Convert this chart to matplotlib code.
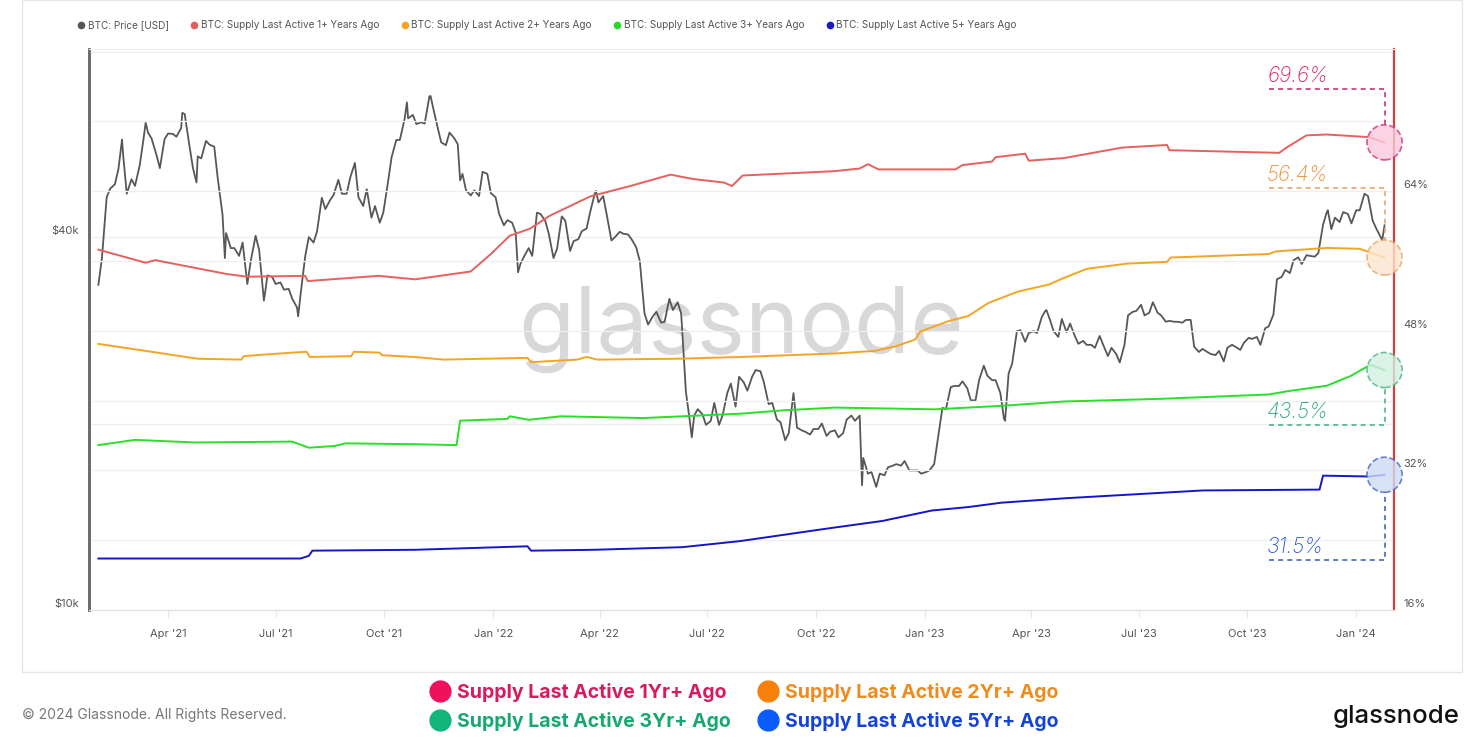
import matplotlib
matplotlib.use("Agg")
import matplotlib.pyplot as plt
import matplotlib.dates as mdates
import matplotlib.transforms as mtransforms
from matplotlib.lines import Line2D
from matplotlib.patches import Rectangle
from matplotlib.ticker import FixedLocator, NullFormatter
import numpy as np
import pandas as pd

plt.rcParams['font.family'] = ['Inter', 'DejaVu Sans']

# ---- BTC price (USD, thousands), Mondays from 2021-02-01 ----
price_mon = [
    33.5, 46.4, 48.7, 54.1,
    49.6, 52.3, 59.0, 54.4, 57.6,
    58.7, 60.0, 56.2, 54.0,
    57.2, 56.0, 43.5, 38.4, 37.3,
    33.6, 40.2, 31.6, 34.5,
    33.8, 33.0, 30.8, 37.3,
    39.2, 46.3, 45.9, 49.5, 47.0,
    52.7, 44.9, 43.0, 42.2,
    49.1, 57.4, 62.0, 63.0,
    61.3, 67.5, 60.1, 56.3, 57.8,
    50.6, 46.7, 46.6, 50.6,
    46.4, 41.8, 42.2, 36.2, 38.4,
    43.8, 42.5, 37.0, 43.2,
    38.0, 39.7, 41.3, 47.1,
    46.6, 39.5, 40.8, 40.4,
    38.5, 30.1, 29.8, 29.1, 31.8,
    31.4, 22.5, 20.6, 20.7,
    20.2, 19.9, 22.4, 21.3,
    23.3, 23.8, 24.3, 21.5, 20.3,
    18.8, 22.4, 19.5, 19.2,
    19.6, 19.1, 19.5, 19.3, 20.6,
    20.6, 16.6, 15.8, 16.5,
    17.1, 17.1, 16.8, 16.8,
    16.7, 17.2, 21.2, 22.9, 23.0,
    22.8, 21.8, 24.8, 23.5,
    22.4, 24.1, 28.2, 27.1,
    28.2, 29.7, 29.4, 27.6,
    28.1, 27.7, 27.2, 26.8, 27.7,
    25.7, 25.9, 26.8, 30.3,
    31.1, 30.2, 30.2, 29.2, 29.2,
    29.1, 29.4, 26.1, 26.1,
    25.8, 25.8, 26.8, 26.3,
    27.5, 27.6, 28.5, 30.0, 34.5,
    35.0, 37.1, 37.4, 37.2,
    41.9, 41.2, 42.3, 43.6,
    44.2, 47.0, 42.5, 39.9,
]
# Thursdays from 2021-02-04
price_thu = [
    37.0, 47.9, 51.6, 47.0,
    48.4, 57.3, 57.7, 51.7,
    58.8, 58.1, 63.2, 51.7, 53.6,
    56.4, 49.7, 40.6, 38.4,
    39.2, 36.7, 38.1, 34.7,
    33.6, 32.9, 31.8, 32.3, 40.0,
    40.9, 44.4, 46.8, 47.0,
    49.9, 46.4, 47.8, 44.9, 43.8,
    53.8, 57.4, 62.2, 60.9,
    61.0, 64.9, 56.9, 59.0,
    56.5, 47.6, 47.6, 51.0, 47.1,
    43.6, 42.6, 40.7, 37.2,
    37.3, 43.6, 40.5, 38.3,
    42.5, 39.4, 40.9, 43.9, 45.5,
    43.5, 40.0, 40.5, 39.7,
    36.6, 28.9, 30.3, 29.2,
    30.5, 30.1, 20.4, 21.1, 19.9,
    21.6, 20.6, 23.2, 23.8,
    22.6, 24.4, 23.3, 21.6,
    20.1, 19.3, 19.7, 19.4, 19.6,
    20.0, 19.4, 19.0, 20.3,
    20.2, 17.6, 16.7, 16.6,
    17.0, 17.2, 17.4, 16.8, 16.6,
    16.8, 18.8, 21.1, 23.0,
    23.4, 21.8, 23.5, 23.9,
    23.5, 20.4, 25.0, 28.3, 28.0,
    28.0, 30.4, 28.2, 29.5,
    29.0, 26.9, 26.8, 26.5,
    26.8, 26.5, 25.1, 29.9, 30.4,
    29.9, 31.4, 29.9, 29.3,
    29.2, 29.4, 26.6, 26.4, 25.9,
    26.2, 26.5, 26.6, 27.0,
    27.4, 26.8, 28.7, 34.2,
    35.4, 36.7, 36.2, 37.3, 37.7,
    43.8, 43.0, 43.9, 42.1,
    44.2, 46.6, 41.3, 40.0,
]
# intra-week highs / lows visible on the chart
price_extra_dates = [
    '2021-02-21', '2021-03-13', '2021-04-13', '2021-04-25', '2021-05-19',
    '2021-06-22', '2021-07-20', '2021-10-20', '2021-11-09', '2021-12-04',
    '2022-01-22', '2022-02-24', '2022-03-29', '2022-06-18', '2022-11-09',
    '2022-11-21', '2023-03-10', '2023-04-14', '2023-06-15', '2023-07-13',
    '2023-08-17', '2023-09-11', '2023-12-08', '2024-01-11', '2024-01-23',
    '2024-01-25',
]
price_extra = [
    57.5, 61.2, 63.5, 49.0, 37.0,
    32.5, 29.8, 66.0, 67.6, 49.4,
    35.1, 38.3, 47.5, 19.0, 15.9,
    15.8, 20.2, 30.5, 25.1, 31.4,
    26.6, 25.2, 44.2, 46.6, 39.5,
    41.8,
]

# ---- supply last active N+ years ago (% of supply) ----
red_dates = ['2021-02-01', '2021-03-13', '2021-03-21', '2021-05-21', '2021-06-07', '2021-07-26',
             '2021-07-28', '2021-09-26', '2021-10-27', '2021-12-13', '2021-12-30', '2022-01-15',
             '2022-02-01', '2022-02-18', '2022-03-24', '2022-04-27', '2022-05-31', '2022-06-19',
             '2022-07-15', '2022-07-22', '2022-07-31', '2022-10-17', '2022-11-07', '2022-11-14',
             '2022-11-23', '2023-01-27', '2023-02-02', '2023-02-27', '2023-03-02', '2023-03-27',
             '2023-03-30', '2023-04-29', '2023-06-17', '2023-07-25', '2023-07-27', '2023-10-28',
             '2023-11-03', '2023-11-20', '2023-12-07', '2024-01-12', '2024-01-25']
red_vals = [57.3, 55.8, 56.1, 54.5, 54.2, 54.3,
            53.7, 54.3, 53.9, 54.8, 56.8, 58.9,
            59.7, 61.2, 63.4, 64.6, 65.9, 65.4,
            65.0, 64.6, 65.8, 66.3, 66.6, 67.1,
            66.5, 66.5, 67.0, 67.4, 67.9, 68.3,
            67.5, 67.8, 69.0, 69.3, 68.7, 68.4,
            69.0, 70.4, 70.5, 70.2, 69.6]

orange_dates = ['2021-02-01', '2021-02-26', '2021-04-26', '2021-06-02', '2021-06-04', '2021-07-15',
                '2021-07-27', '2021-07-30', '2021-09-03', '2021-09-05', '2021-09-27', '2021-09-29',
                '2021-10-27', '2021-11-20', '2022-01-30', '2022-02-02', '2022-03-13', '2022-03-21',
                '2022-03-30', '2022-06-06', '2022-07-29', '2022-10-17', '2022-11-20', '2022-12-07',
                '2022-12-24', '2022-12-28', '2023-01-21', '2023-02-07', '2023-02-24', '2023-03-21',
                '2023-04-16', '2023-04-26', '2023-05-18', '2023-06-21', '2023-07-25', '2023-07-28',
                '2023-10-19', '2023-10-25', '2023-12-07', '2024-01-04', '2024-01-25']
orange_vals = [46.5, 46.0, 44.8, 44.7, 45.1, 45.5,
               45.6, 45.0, 45.1, 45.6, 45.5, 45.2,
               45.0, 44.7, 44.9, 44.4, 44.7, 45.0,
               44.7, 44.8, 45.0, 45.4, 45.7, 46.2,
               47.0, 47.9, 49.1, 49.7, 51.2, 52.5,
               53.3, 53.9, 55.1, 55.7, 55.9, 56.4,
               56.8, 57.1, 57.5, 57.4, 56.4]

green_dates = ['2021-02-01', '2021-03-04', '2021-04-24', '2021-07-15', '2021-07-21', '2021-07-29',
               '2021-08-20', '2021-08-29', '2021-10-27', '2021-12-01', '2021-12-04', '2022-01-13',
               '2022-01-15', '2022-01-31', '2022-02-27', '2022-05-08', '2022-07-29', '2022-09-05',
               '2022-10-17', '2023-01-10', '2023-03-07', '2023-04-29', '2023-07-19', '2023-10-19',
               '2023-11-05', '2023-12-07', '2023-12-27', '2024-01-13', '2024-01-25']
green_vals = [34.9, 35.5, 35.2, 35.3, 35.0, 34.6,
              34.8, 35.1, 35.0, 34.9, 37.7, 37.9,
              38.2, 37.8, 38.2, 38.0, 38.5, 38.9,
              39.2, 39.0, 39.4, 39.9, 40.2, 40.7,
              41.1, 41.7, 42.8, 44.1, 43.5]

blue_dates = ['2021-02-01', '2021-07-22', '2021-07-29', '2021-08-01', '2021-10-27', '2022-01-30',
              '2022-02-02', '2022-03-27', '2022-06-10', '2022-07-29', '2022-10-14', '2022-11-26',
              '2023-01-07', '2023-02-07', '2023-03-07', '2023-04-29', '2023-08-24', '2023-12-01',
              '2023-12-04', '2024-01-12', '2024-01-25']
blue_vals = [21.9, 21.9, 22.2, 22.8, 22.9, 23.3,
             22.8, 22.9, 23.2, 23.9, 25.4, 26.2,
             27.4, 27.8, 28.3, 28.8, 29.7, 29.8,
             31.4, 31.3, 31.5]

top_labels = ['BTC: Price [USD]', 'BTC: Supply Last Active 1+ Years Ago',
              'BTC: Supply Last Active 2+ Years Ago', 'BTC: Supply Last Active 3+ Years Ago',
              'BTC: Supply Last Active 5+ Years Ago']
bottom_labels = ['Supply Last Active 1Yr+ Ago', 'Supply Last Active 2Yr+ Ago',
                 'Supply Last Active 3Yr+ Ago', 'Supply Last Active 5Yr+ Ago']
x_ticks = ['2021-04-01', '2021-07-01', '2021-10-01', '2022-01-01', '2022-04-01', '2022-07-01',
           '2022-10-01', '2023-01-01', '2023-04-01', '2023-07-01', '2023-10-01', '2024-01-01']

# ---- build frames ----
mon = pd.Series(np.array(price_mon) * 1000,
                index=pd.date_range('2021-02-01', periods=len(price_mon), freq='7D'))
thu = pd.Series(np.array(price_thu) * 1000,
                index=pd.date_range('2021-02-04', periods=len(price_thu), freq='7D'))
extra = pd.Series(np.array(price_extra) * 1000, index=pd.to_datetime(price_extra_dates))
price = pd.concat([mon, thu, extra])
price = price[~price.index.duplicated(keep='last')].sort_index()

supply = [
    (pd.to_datetime(red_dates), red_vals, '#e8605c'),
    (pd.to_datetime(orange_dates), orange_vals, '#f5a524'),
    (pd.to_datetime(green_dates), green_vals, '#27e027'),
    (pd.to_datetime(blue_dates), blue_vals, '#1414cc'),
]
# annotation styling: label colour, circle fill, circle edge, label offset (pct points)
annot = [
    ('#dc1f66', '#f9cadc', '#cc3377', 6.1),
    ('#f08c2c', '#fde4cd', '#e8a668', 8.0),
    ('#24a878', '#d3efe0', '#4bb488', -6.3),
    ('#2c5ad8', '#cfdbf6', '#4466bb', -9.8),
]

fig = plt.figure(figsize=(14.7, 7.54), dpi=100)
ax = fig.add_axes([0.0605, 0.191, 0.8878, 0.744])
ax2 = ax.twinx()

ax.set_yscale('log')
ax.set_ylim(10000, 80500)
ax2.set_ylim(16, 80.3)
ax.set_xlim(pd.Timestamp('2021-01-24'), pd.Timestamp('2024-02-02'))

ax.text(0.5, 0.5, 'glassnode', transform=ax.transAxes, fontsize=66, color='#d8d8d8',
        ha='center', va='center', zorder=0)

ax.plot(price.index, price.values, color='#575757', lw=1.3, zorder=3)
for d, v, c in supply:
    ax2.plot(d, v, color=c, lw=1.4, zorder=3)

# end-of-series annotations
pct_per_px = (80.3 - 16) / (0.744 * 754)
r = 17 * pct_per_px
label_start = pd.Timestamp('2023-10-19')
for (d, v, c), (lc, fc, ec, off) in zip(supply, annot):
    xe, ve = d[-1], v[-1]
    lvl = ve + off
    edge = ve + r if off > 0 else ve - r
    ax2.plot([label_start, xe, xe], [lvl, lvl, edge], color=ec, lw=1.2,
             ls=(0, (3, 2.5)), zorder=4, clip_on=False)
    ax2.scatter([xe], [ve], s=640, facecolor=fc, edgecolor=ec, linestyle='--',
                linewidths=1.2, alpha=0.8, zorder=5, clip_on=False)
    ax2.annotate(f'{ve:.1f}%', xy=(label_start, lvl), xytext=(-1, 2), textcoords='offset points',
                 ha='left', va='bottom', fontsize=15, style='italic', fontweight='light', color=lc)

# axes styling
for a in (ax, ax2):
    a.spines['left'].set_color('#6b6b6b')
    a.spines['left'].set_linewidth(1.9)
    a.spines['right'].set_color('#e53935')
    a.spines['right'].set_linewidth(1.5)
    a.spines['top'].set_color('#efefef')
    a.spines['bottom'].set_color('#e2e2e2')

ax.set_xticks(pd.to_datetime(x_ticks))
ax.xaxis.set_major_formatter(mdates.DateFormatter("%b '%y"))
ax.tick_params(axis='x', length=6, color='#e6e6e6', pad=8, labelsize=8, labelcolor='#555555')

ax.yaxis.set_major_locator(FixedLocator([10000, 40000]))
ax.set_yticklabels(['$10k', '$40k'])
ax.yaxis.set_minor_locator(FixedLocator([20000]))
ax.yaxis.set_minor_formatter(NullFormatter())
ax.tick_params(axis='y', which='both', length=0, pad=7, labelsize=8, labelcolor='#555555')
ax.grid(axis='y', which='both', color='#efefef', lw=0.9)

ax2.yaxis.set_major_locator(FixedLocator([16, 32, 48, 64]))
ax2.set_yticklabels(['16%', '32%', '48%', '64%'])
ax2.yaxis.set_minor_locator(FixedLocator([24, 40, 56, 72, 80]))
ax2.yaxis.set_minor_formatter(NullFormatter())
ax2.tick_params(axis='y', which='both', length=0, pad=7, labelsize=8, labelcolor='#555555')
ax2.grid(axis='y', which='both', color='#efefef', lw=0.9)
ax2.set_zorder(ax.get_zorder() + 1)

shift = mtransforms.ScaledTranslation(0, 5 / 72, fig.dpi_scale_trans)
for lbl in ax.get_yticklabels() + ax2.get_yticklabels():
    lbl.set_transform(lbl.get_transform() + shift)

# top legend
top_colors = ['#555555', '#e35d5d', '#f5a623', '#28d728', '#1a1acc']
top_handles = [Line2D([], [], ls='', marker='o', ms=4.5, color=c) for c in top_colors]
fig.legend(top_handles, top_labels, loc='upper left', bbox_to_anchor=(0.0475, 0.985), ncol=5,
           frameon=False, fontsize=7.2, handlelength=0.5, handletextpad=0.4, columnspacing=2.3,
           labelcolor='#555555')

# bottom legend
mk_colors = ['#f0115c', '#f7800a', '#12b57a', '#0b5cff']
txt_colors = ['#d81a5f', '#f08a1c', '#16a870', '#1443da']
order = [0, 2, 1, 3]
bot_handles = [Line2D([], [], ls='', marker='o', ms=15, color=mk_colors[i]) for i in order]
fig.legend(bot_handles, [bottom_labels[i] for i in order], loc='center',
           bbox_to_anchor=(0.5065, 0.0625), ncol=2, frameon=False,
           prop={'family': 'Inter', 'weight': 'bold', 'size': 14},
           labelcolor=[txt_colors[i] for i in order], handlelength=1.0, handletextpad=0.35,
           columnspacing=1.45, labelspacing=0.5)

fig.text(22 / 1470, 1 - 715 / 754, '\u00a9 2024 Glassnode. All Rights Reserved.', fontsize=10,
         color='#777777', ha='left', va='center')
fig.text(1460 / 1470, 1 - 716 / 754, 'glassnode', fontsize=18.5, color='#111111', ha='right',
         va='center', fontweight='medium')

fig.add_artist(Rectangle((22 / 1470, 1 - 672 / 754), 1440 / 1470, 672 / 754, transform=fig.transFigure,
                         fill=False, ec='#e6e6e6', lw=1))

fig.savefig('out.png', dpi=100, facecolor='white')
